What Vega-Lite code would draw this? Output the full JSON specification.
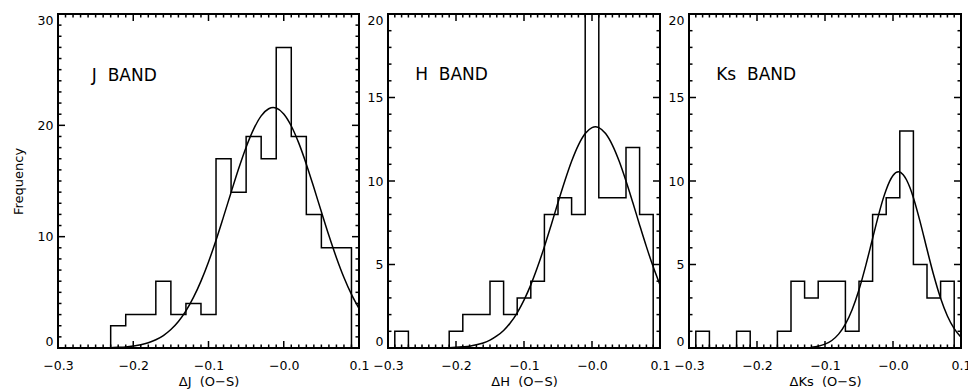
{
  "$schema": "https://vega.github.io/schema/vega-lite/v6.json",
  "background": "white",
  "padding": {"left": 11, "top": 13, "right": 5, "bottom": 0},
  "spacing": 29,
  "bounds": "flush",
  "config": {
    "view": {"stroke": "black", "strokeWidth": 2},
    "axis": {
      "grid": false,
      "domain": false,
      "ticks": true,
      "offset": -7,
      "tickSize": 7,
      "tickColor": "black",
      "tickOpacity": 0,
      "tickWidth": 1.5,
      "labelColor": "black",
      "labelFont": "DejaVu Sans",
      "labelFontSize": 12.5,
      "titleFont": "DejaVu Sans",
      "titleFontSize": 13,
      "titleFontWeight": "normal",
      "titleColor": "black",
      "labelOverlap": false,
      "labelBound": false
    }
  },
  "datasets": {
    "hist": [
      {"band": "J", "bin_start": -0.3, "count": 0},
      {"band": "J", "bin_start": -0.23, "count": 2},
      {"band": "J", "bin_start": -0.21, "count": 3},
      {"band": "J", "bin_start": -0.19, "count": 3},
      {"band": "J", "bin_start": -0.17, "count": 6},
      {"band": "J", "bin_start": -0.15, "count": 3},
      {"band": "J", "bin_start": -0.13, "count": 4},
      {"band": "J", "bin_start": -0.11, "count": 3},
      {"band": "J", "bin_start": -0.09, "count": 17},
      {"band": "J", "bin_start": -0.07, "count": 14},
      {"band": "J", "bin_start": -0.05, "count": 19},
      {"band": "J", "bin_start": -0.03, "count": 17},
      {"band": "J", "bin_start": -0.01, "count": 27},
      {"band": "J", "bin_start": 0.01, "count": 19},
      {"band": "J", "bin_start": 0.03, "count": 12},
      {"band": "J", "bin_start": 0.05, "count": 9},
      {"band": "J", "bin_start": 0.07, "count": 9},
      {"band": "J", "bin_start": 0.09, "count": 0},
      {"band": "H", "bin_start": -0.3, "count": 0},
      {"band": "H", "bin_start": -0.29, "count": 1},
      {"band": "H", "bin_start": -0.27, "count": 0},
      {"band": "H", "bin_start": -0.25, "count": 0},
      {"band": "H", "bin_start": -0.23, "count": 0},
      {"band": "H", "bin_start": -0.21, "count": 1},
      {"band": "H", "bin_start": -0.19, "count": 2},
      {"band": "H", "bin_start": -0.17, "count": 2},
      {"band": "H", "bin_start": -0.15, "count": 4},
      {"band": "H", "bin_start": -0.13, "count": 2},
      {"band": "H", "bin_start": -0.11, "count": 3},
      {"band": "H", "bin_start": -0.09, "count": 4},
      {"band": "H", "bin_start": -0.07, "count": 8},
      {"band": "H", "bin_start": -0.05, "count": 9},
      {"band": "H", "bin_start": -0.03, "count": 8},
      {"band": "H", "bin_start": -0.01, "count": 22},
      {"band": "H", "bin_start": 0.01, "count": 9},
      {"band": "H", "bin_start": 0.03, "count": 9},
      {"band": "H", "bin_start": 0.05, "count": 12},
      {"band": "H", "bin_start": 0.07, "count": 8},
      {"band": "H", "bin_start": 0.09, "count": 0},
      {"band": "Ks", "bin_start": -0.3, "count": 0},
      {"band": "Ks", "bin_start": -0.29, "count": 1},
      {"band": "Ks", "bin_start": -0.27, "count": 0},
      {"band": "Ks", "bin_start": -0.25, "count": 0},
      {"band": "Ks", "bin_start": -0.23, "count": 1},
      {"band": "Ks", "bin_start": -0.21, "count": 0},
      {"band": "Ks", "bin_start": -0.19, "count": 0},
      {"band": "Ks", "bin_start": -0.17, "count": 1},
      {"band": "Ks", "bin_start": -0.15, "count": 4},
      {"band": "Ks", "bin_start": -0.13, "count": 3},
      {"band": "Ks", "bin_start": -0.11, "count": 4},
      {"band": "Ks", "bin_start": -0.09, "count": 4},
      {"band": "Ks", "bin_start": -0.07, "count": 1},
      {"band": "Ks", "bin_start": -0.05, "count": 4},
      {"band": "Ks", "bin_start": -0.03, "count": 8},
      {"band": "Ks", "bin_start": -0.01, "count": 9},
      {"band": "Ks", "bin_start": 0.01, "count": 13},
      {"band": "Ks", "bin_start": 0.03, "count": 5},
      {"band": "Ks", "bin_start": 0.05, "count": 3},
      {"band": "Ks", "bin_start": 0.07, "count": 4},
      {"band": "Ks", "bin_start": 0.09, "count": 0}
    ],
    "fit": [
      {"band": "J", "x": -0.24, "y": 0.02},
      {"band": "J", "x": -0.23, "y": 0.03},
      {"band": "J", "x": -0.22, "y": 0.06},
      {"band": "J", "x": -0.21, "y": 0.10},
      {"band": "J", "x": -0.20, "y": 0.18},
      {"band": "J", "x": -0.19, "y": 0.29},
      {"band": "J", "x": -0.18, "y": 0.47},
      {"band": "J", "x": -0.17, "y": 0.74},
      {"band": "J", "x": -0.16, "y": 1.12},
      {"band": "J", "x": -0.15, "y": 1.66},
      {"band": "J", "x": -0.14, "y": 2.38},
      {"band": "J", "x": -0.13, "y": 3.33},
      {"band": "J", "x": -0.12, "y": 4.54},
      {"band": "J", "x": -0.11, "y": 6.01},
      {"band": "J", "x": -0.10, "y": 7.73},
      {"band": "J", "x": -0.09, "y": 9.68},
      {"band": "J", "x": -0.08, "y": 11.80},
      {"band": "J", "x": -0.07, "y": 13.97},
      {"band": "J", "x": -0.06, "y": 16.10},
      {"band": "J", "x": -0.05, "y": 18.04},
      {"band": "J", "x": -0.04, "y": 19.66},
      {"band": "J", "x": -0.03, "y": 20.85},
      {"band": "J", "x": -0.02, "y": 21.49},
      {"band": "J", "x": -0.014, "y": 21.60},
      {"band": "J", "x": -0.01, "y": 21.55},
      {"band": "J", "x": 0.00, "y": 21.02},
      {"band": "J", "x": 0.01, "y": 19.94},
      {"band": "J", "x": 0.02, "y": 18.40},
      {"band": "J", "x": 0.03, "y": 16.51},
      {"band": "J", "x": 0.04, "y": 14.41},
      {"band": "J", "x": 0.05, "y": 12.23},
      {"band": "J", "x": 0.06, "y": 10.10},
      {"band": "J", "x": 0.07, "y": 8.11},
      {"band": "J", "x": 0.08, "y": 6.33},
      {"band": "J", "x": 0.09, "y": 4.81},
      {"band": "J", "x": 0.10, "y": 3.55},
      {"band": "H", "x": -0.22, "y": 0.01},
      {"band": "H", "x": -0.21, "y": 0.02},
      {"band": "H", "x": -0.20, "y": 0.04},
      {"band": "H", "x": -0.19, "y": 0.07},
      {"band": "H", "x": -0.18, "y": 0.11},
      {"band": "H", "x": -0.17, "y": 0.19},
      {"band": "H", "x": -0.16, "y": 0.30},
      {"band": "H", "x": -0.15, "y": 0.47},
      {"band": "H", "x": -0.14, "y": 0.72},
      {"band": "H", "x": -0.13, "y": 1.05},
      {"band": "H", "x": -0.12, "y": 1.51},
      {"band": "H", "x": -0.11, "y": 2.11},
      {"band": "H", "x": -0.10, "y": 2.87},
      {"band": "H", "x": -0.09, "y": 3.78},
      {"band": "H", "x": -0.08, "y": 4.86},
      {"band": "H", "x": -0.07, "y": 6.07},
      {"band": "H", "x": -0.06, "y": 7.37},
      {"band": "H", "x": -0.05, "y": 8.71},
      {"band": "H", "x": -0.04, "y": 10.00},
      {"band": "H", "x": -0.03, "y": 11.18},
      {"band": "H", "x": -0.02, "y": 12.15},
      {"band": "H", "x": -0.01, "y": 12.84},
      {"band": "H", "x": 0.00, "y": 13.20},
      {"band": "H", "x": 0.005, "y": 13.25},
      {"band": "H", "x": 0.01, "y": 13.20},
      {"band": "H", "x": 0.02, "y": 12.84},
      {"band": "H", "x": 0.03, "y": 12.15},
      {"band": "H", "x": 0.04, "y": 11.18},
      {"band": "H", "x": 0.05, "y": 10.00},
      {"band": "H", "x": 0.06, "y": 8.71},
      {"band": "H", "x": 0.07, "y": 7.37},
      {"band": "H", "x": 0.08, "y": 6.07},
      {"band": "H", "x": 0.09, "y": 4.86},
      {"band": "H", "x": 0.10, "y": 3.78},
      {"band": "Ks", "x": -0.12, "y": 0.05},
      {"band": "Ks", "x": -0.11, "y": 0.11},
      {"band": "Ks", "x": -0.10, "y": 0.23},
      {"band": "Ks", "x": -0.09, "y": 0.45},
      {"band": "Ks", "x": -0.08, "y": 0.83},
      {"band": "Ks", "x": -0.07, "y": 1.43},
      {"band": "Ks", "x": -0.06, "y": 2.31},
      {"band": "Ks", "x": -0.05, "y": 3.49},
      {"band": "Ks", "x": -0.04, "y": 4.95},
      {"band": "Ks", "x": -0.03, "y": 6.56},
      {"band": "Ks", "x": -0.02, "y": 8.15},
      {"band": "Ks", "x": -0.015, "y": 8.87},
      {"band": "Ks", "x": -0.01, "y": 9.48},
      {"band": "Ks", "x": -0.005, "y": 9.98},
      {"band": "Ks", "x": 0.00, "y": 10.33},
      {"band": "Ks", "x": 0.008, "y": 10.55},
      {"band": "Ks", "x": 0.015, "y": 10.38},
      {"band": "Ks", "x": 0.02, "y": 10.06},
      {"band": "Ks", "x": 0.025, "y": 9.59},
      {"band": "Ks", "x": 0.03, "y": 9.00},
      {"band": "Ks", "x": 0.04, "y": 7.54},
      {"band": "Ks", "x": 0.05, "y": 5.91},
      {"band": "Ks", "x": 0.06, "y": 4.34},
      {"band": "Ks", "x": 0.07, "y": 2.98},
      {"band": "Ks", "x": 0.08, "y": 1.92},
      {"band": "Ks", "x": 0.09, "y": 1.16},
      {"band": "Ks", "x": 0.10, "y": 0.65}
    ],
    "labels": [
      {"band": "J", "x": -0.255, "y": 23.94, "text": "J\u00a0 BAND"},
      {"band": "H", "x": -0.26, "y": 16.02, "text": "H\u00a0 BAND"},
      {"band": "Ks", "x": -0.26, "y": 16.05, "text": "Ks\u00a0 BAND"}
    ],
    "xticks": [
      {"v": -0.3, "major": true}, {"v": -0.29, "major": false}, {"v": -0.28, "major": false}, {"v": -0.27, "major": false}, {"v": -0.26, "major": false},
      {"v": -0.25, "major": false}, {"v": -0.24, "major": false}, {"v": -0.23, "major": false}, {"v": -0.22, "major": false}, {"v": -0.21, "major": false},
      {"v": -0.2, "major": true}, {"v": -0.19, "major": false}, {"v": -0.18, "major": false}, {"v": -0.17, "major": false}, {"v": -0.16, "major": false},
      {"v": -0.15, "major": false}, {"v": -0.14, "major": false}, {"v": -0.13, "major": false}, {"v": -0.12, "major": false}, {"v": -0.11, "major": false},
      {"v": -0.1, "major": true}, {"v": -0.09, "major": false}, {"v": -0.08, "major": false}, {"v": -0.07, "major": false}, {"v": -0.06, "major": false},
      {"v": -0.05, "major": false}, {"v": -0.04, "major": false}, {"v": -0.03, "major": false}, {"v": -0.02, "major": false}, {"v": -0.01, "major": false},
      {"v": 0.0, "major": true}, {"v": 0.01, "major": false}, {"v": 0.02, "major": false}, {"v": 0.03, "major": false}, {"v": 0.04, "major": false},
      {"v": 0.05, "major": false}, {"v": 0.06, "major": false}, {"v": 0.07, "major": false}, {"v": 0.08, "major": false}, {"v": 0.09, "major": false},
      {"v": 0.1, "major": true}
    ],
    "y30": [
      {"v": 0, "major": true}, {"v": 1, "major": false}, {"v": 2, "major": false}, {"v": 3, "major": false}, {"v": 4, "major": false},
      {"v": 5, "major": false}, {"v": 6, "major": false}, {"v": 7, "major": false}, {"v": 8, "major": false}, {"v": 9, "major": false},
      {"v": 10, "major": true}, {"v": 11, "major": false}, {"v": 12, "major": false}, {"v": 13, "major": false}, {"v": 14, "major": false},
      {"v": 15, "major": false}, {"v": 16, "major": false}, {"v": 17, "major": false}, {"v": 18, "major": false}, {"v": 19, "major": false},
      {"v": 20, "major": true}, {"v": 21, "major": false}, {"v": 22, "major": false}, {"v": 23, "major": false}, {"v": 24, "major": false},
      {"v": 25, "major": false}, {"v": 26, "major": false}, {"v": 27, "major": false}, {"v": 28, "major": false}, {"v": 29, "major": false},
      {"v": 30, "major": true}
    ],
    "y20": [
      {"v": 0, "major": true}, {"v": 1, "major": false}, {"v": 2, "major": false}, {"v": 3, "major": false}, {"v": 4, "major": false},
      {"v": 5, "major": true}, {"v": 6, "major": false}, {"v": 7, "major": false}, {"v": 8, "major": false}, {"v": 9, "major": false},
      {"v": 10, "major": true}, {"v": 11, "major": false}, {"v": 12, "major": false}, {"v": 13, "major": false}, {"v": 14, "major": false},
      {"v": 15, "major": true}, {"v": 16, "major": false}, {"v": 17, "major": false}, {"v": 18, "major": false}, {"v": 19, "major": false},
      {"v": 20, "major": true}
    ]
  },
  "hconcat": [
    {
      "width": 301,
      "height": 334,
      "resolve": {"axis": {"x": "independent", "y": "independent"}},
      "layer": [
        {
          "data": {"name": "hist"},
          "transform": [{"filter": "datum.band === 'J'"}],
          "mark": {"type": "line", "interpolate": "step-after", "color": "black", "strokeWidth": 1.5, "clip": true},
          "encoding": {
            "x": {"field": "bin_start", "type": "quantitative", "scale": {"domain": [-0.3, 0.1], "nice": false, "zero": false},
              "axis": {"orient": "bottom", "title": "ΔJ\u00a0 (O−S)", "tickCount": 40, "labelPadding": 11, "titlePadding": 4, "labelFlush": false,
                "labelExpr": "abs(datum.value*10 - round(datum.value*10)) < 1e-6 ? (abs(datum.value) < 1e-6 ? '−0.0' : format(datum.value, '.1f')) : ''"}},
            "y": {"field": "count", "type": "quantitative", "scale": {"domain": [0, 30], "nice": false, "zero": true},
              "axis": {"orient": "left", "title": "Frequency", "tickCount": 30, "labelPadding": 5, "titlePadding": 12, "labelFlush": true,
                "labelExpr": "datum.value % 10 === 0 ? format(datum.value, 'd') : ''"}}
          }
        },
        {
          "data": {"name": "fit"},
          "transform": [{"filter": "datum.band === 'J'"}],
          "mark": {"type": "line", "interpolate": "monotone", "color": "black", "strokeWidth": 1.5, "clip": true},
          "encoding": {
            "x": {"field": "x", "type": "quantitative", "axis": null},
            "y": {"field": "y", "type": "quantitative", "axis": null}
          }
        },
        {
          "data": {"name": "xticks"},
          "mark": {"type": "tick", "orient": "vertical", "color": "black", "opacity": 1, "thickness": 1.5, "clip": true},
          "encoding": {
            "x": {"field": "v", "type": "quantitative", "axis": null},
            "y": {"datum": 0, "type": "quantitative", "axis": null},
            "size": {"condition": {"test": "datum.major", "value": 14}, "value": 7}
          }
        },
        {
          "data": {"name": "xticks"},
          "mark": {"type": "tick", "orient": "vertical", "color": "black", "opacity": 1, "thickness": 1.5, "clip": true},
          "encoding": {
            "x": {"field": "v", "type": "quantitative", "axis": null},
            "y": {"datum": 30, "type": "quantitative", "axis": null},
            "size": {"condition": {"test": "datum.major", "value": 14}, "value": 7}
          }
        },
        {
          "data": {"name": "y30"},
          "mark": {"type": "tick", "orient": "horizontal", "color": "black", "opacity": 1, "thickness": 1.5, "clip": true},
          "encoding": {
            "x": {"datum": -0.3, "type": "quantitative", "axis": null},
            "y": {"field": "v", "type": "quantitative", "axis": null},
            "size": {"condition": {"test": "datum.major", "value": 14}, "value": 7}
          }
        },
        {
          "data": {"name": "y30"},
          "mark": {"type": "tick", "orient": "horizontal", "color": "black", "opacity": 1, "thickness": 1.5, "clip": true},
          "encoding": {
            "x": {"datum": 0.1, "type": "quantitative", "axis": null},
            "y": {"field": "v", "type": "quantitative", "axis": null},
            "size": {"condition": {"test": "datum.major", "value": 14}, "value": 7}
          }
        },
        {
          "data": {"name": "labels"},
          "transform": [{"filter": "datum.band === 'J'"}],
          "mark": {"type": "text", "align": "left", "baseline": "alphabetic", "font": "DejaVu Sans", "fontSize": 17, "color": "black"},
          "encoding": {
            "x": {"field": "x", "type": "quantitative", "axis": null},
            "y": {"field": "y", "type": "quantitative", "axis": null},
            "text": {"field": "text"}
          }
        }
      ]
    },
    {
      "width": 272,
      "height": 334,
      "resolve": {"axis": {"x": "independent", "y": "independent"}},
      "layer": [
        {
          "data": {"name": "hist"},
          "transform": [{"filter": "datum.band === 'H'"}],
          "mark": {"type": "line", "interpolate": "step-after", "color": "black", "strokeWidth": 1.5, "clip": true},
          "encoding": {
            "x": {"field": "bin_start", "type": "quantitative", "scale": {"domain": [-0.3, 0.1], "nice": false, "zero": false},
              "axis": {"orient": "bottom", "title": "ΔH\u00a0 (O−S)", "tickCount": 40, "labelPadding": 11, "titlePadding": 4, "labelFlush": false,
                "labelExpr": "abs(datum.value*10 - round(datum.value*10)) < 1e-6 ? (abs(datum.value) < 1e-6 ? '−0.0' : format(datum.value, '.1f')) : ''"}},
            "y": {"field": "count", "type": "quantitative", "scale": {"domain": [0, 20], "nice": false, "zero": true},
              "axis": {"orient": "left", "title": null, "tickCount": 20, "labelPadding": 5, "labelFlush": true,
                "labelExpr": "datum.value % 5 === 0 ? format(datum.value, 'd') : ''"}}
          }
        },
        {
          "data": {"name": "fit"},
          "transform": [{"filter": "datum.band === 'H'"}],
          "mark": {"type": "line", "interpolate": "monotone", "color": "black", "strokeWidth": 1.5, "clip": true},
          "encoding": {
            "x": {"field": "x", "type": "quantitative", "axis": null},
            "y": {"field": "y", "type": "quantitative", "axis": null}
          }
        },
        {
          "data": {"name": "xticks"},
          "mark": {"type": "tick", "orient": "vertical", "color": "black", "opacity": 1, "thickness": 1.5, "clip": true},
          "encoding": {
            "x": {"field": "v", "type": "quantitative", "axis": null},
            "y": {"datum": 0, "type": "quantitative", "axis": null},
            "size": {"condition": {"test": "datum.major", "value": 14}, "value": 7}
          }
        },
        {
          "data": {"name": "xticks"},
          "mark": {"type": "tick", "orient": "vertical", "color": "black", "opacity": 1, "thickness": 1.5, "clip": true},
          "encoding": {
            "x": {"field": "v", "type": "quantitative", "axis": null},
            "y": {"datum": 20, "type": "quantitative", "axis": null},
            "size": {"condition": {"test": "datum.major", "value": 14}, "value": 7}
          }
        },
        {
          "data": {"name": "y20"},
          "mark": {"type": "tick", "orient": "horizontal", "color": "black", "opacity": 1, "thickness": 1.5, "clip": true},
          "encoding": {
            "x": {"datum": -0.3, "type": "quantitative", "axis": null},
            "y": {"field": "v", "type": "quantitative", "axis": null},
            "size": {"condition": {"test": "datum.major", "value": 14}, "value": 7}
          }
        },
        {
          "data": {"name": "y20"},
          "mark": {"type": "tick", "orient": "horizontal", "color": "black", "opacity": 1, "thickness": 1.5, "clip": true},
          "encoding": {
            "x": {"datum": 0.1, "type": "quantitative", "axis": null},
            "y": {"field": "v", "type": "quantitative", "axis": null},
            "size": {"condition": {"test": "datum.major", "value": 14}, "value": 7}
          }
        },
        {
          "data": {"name": "labels"},
          "transform": [{"filter": "datum.band === 'H'"}],
          "mark": {"type": "text", "align": "left", "baseline": "alphabetic", "font": "DejaVu Sans", "fontSize": 17, "color": "black"},
          "encoding": {
            "x": {"field": "x", "type": "quantitative", "axis": null},
            "y": {"field": "y", "type": "quantitative", "axis": null},
            "text": {"field": "text"}
          }
        }
      ]
    },
    {
      "width": 272,
      "height": 334,
      "resolve": {"axis": {"x": "independent", "y": "independent"}},
      "layer": [
        {
          "data": {"name": "hist"},
          "transform": [{"filter": "datum.band === 'Ks'"}],
          "mark": {"type": "line", "interpolate": "step-after", "color": "black", "strokeWidth": 1.5, "clip": true},
          "encoding": {
            "x": {"field": "bin_start", "type": "quantitative", "scale": {"domain": [-0.3, 0.1], "nice": false, "zero": false},
              "axis": {"orient": "bottom", "title": "ΔKs\u00a0 (O−S)", "tickCount": 40, "labelPadding": 11, "titlePadding": 4, "labelFlush": false,
                "labelExpr": "abs(datum.value*10 - round(datum.value*10)) < 1e-6 ? (abs(datum.value) < 1e-6 ? '−0.0' : format(datum.value, '.1f')) : ''"}},
            "y": {"field": "count", "type": "quantitative", "scale": {"domain": [0, 20], "nice": false, "zero": true},
              "axis": {"orient": "left", "title": null, "tickCount": 20, "labelPadding": 5, "labelFlush": true,
                "labelExpr": "datum.value % 5 === 0 ? format(datum.value, 'd') : ''"}}
          }
        },
        {
          "data": {"name": "fit"},
          "transform": [{"filter": "datum.band === 'Ks'"}],
          "mark": {"type": "line", "interpolate": "monotone", "color": "black", "strokeWidth": 1.5, "clip": true},
          "encoding": {
            "x": {"field": "x", "type": "quantitative", "axis": null},
            "y": {"field": "y", "type": "quantitative", "axis": null}
          }
        },
        {
          "data": {"name": "xticks"},
          "mark": {"type": "tick", "orient": "vertical", "color": "black", "opacity": 1, "thickness": 1.5, "clip": true},
          "encoding": {
            "x": {"field": "v", "type": "quantitative", "axis": null},
            "y": {"datum": 0, "type": "quantitative", "axis": null},
            "size": {"condition": {"test": "datum.major", "value": 14}, "value": 7}
          }
        },
        {
          "data": {"name": "xticks"},
          "mark": {"type": "tick", "orient": "vertical", "color": "black", "opacity": 1, "thickness": 1.5, "clip": true},
          "encoding": {
            "x": {"field": "v", "type": "quantitative", "axis": null},
            "y": {"datum": 20, "type": "quantitative", "axis": null},
            "size": {"condition": {"test": "datum.major", "value": 14}, "value": 7}
          }
        },
        {
          "data": {"name": "y20"},
          "mark": {"type": "tick", "orient": "horizontal", "color": "black", "opacity": 1, "thickness": 1.5, "clip": true},
          "encoding": {
            "x": {"datum": -0.3, "type": "quantitative", "axis": null},
            "y": {"field": "v", "type": "quantitative", "axis": null},
            "size": {"condition": {"test": "datum.major", "value": 14}, "value": 7}
          }
        },
        {
          "data": {"name": "y20"},
          "mark": {"type": "tick", "orient": "horizontal", "color": "black", "opacity": 1, "thickness": 1.5, "clip": true},
          "encoding": {
            "x": {"datum": 0.1, "type": "quantitative", "axis": null},
            "y": {"field": "v", "type": "quantitative", "axis": null},
            "size": {"condition": {"test": "datum.major", "value": 14}, "value": 7}
          }
        },
        {
          "data": {"name": "labels"},
          "transform": [{"filter": "datum.band === 'Ks'"}],
          "mark": {"type": "text", "align": "left", "baseline": "alphabetic", "font": "DejaVu Sans", "fontSize": 17, "color": "black"},
          "encoding": {
            "x": {"field": "x", "type": "quantitative", "axis": null},
            "y": {"field": "y", "type": "quantitative", "axis": null},
            "text": {"field": "text"}
          }
        }
      ]
    }
  ]
}
